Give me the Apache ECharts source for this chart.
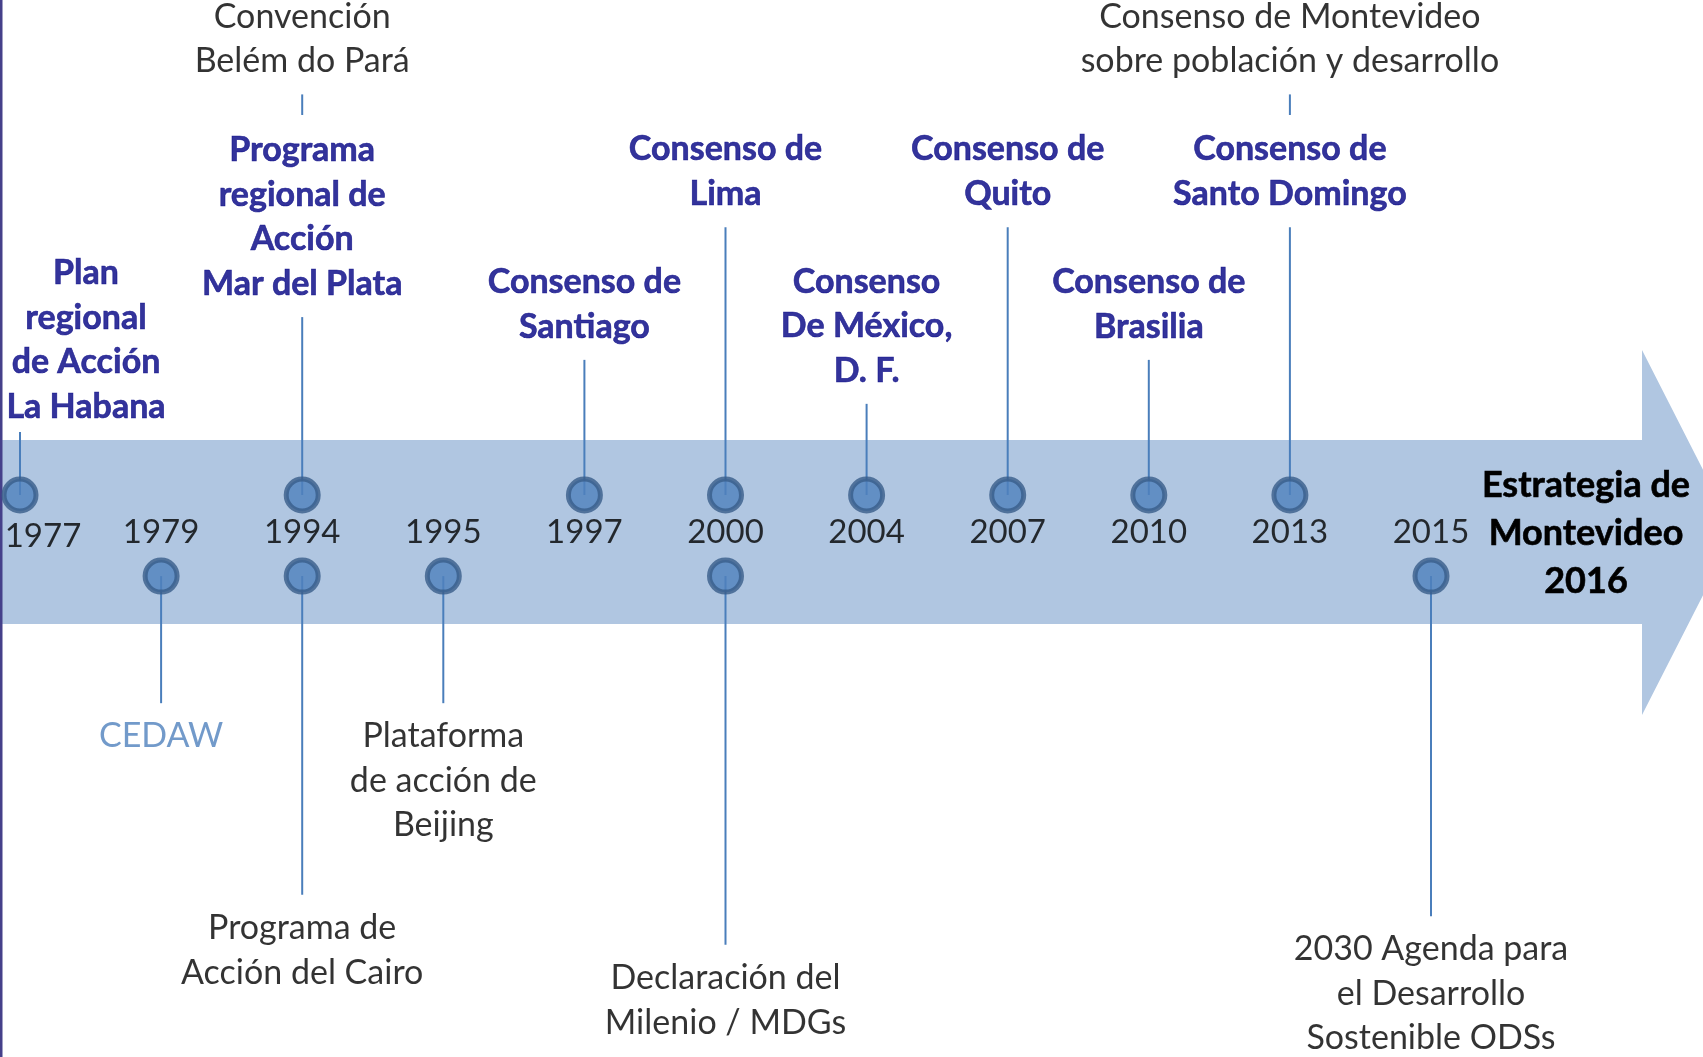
<!DOCTYPE html>
<html><head><meta charset="utf-8">
<script src="https://cdn.jsdelivr.net/npm/echarts@6/dist/echarts.min.js"></script>
<style>html,body{margin:0;padding:0;background:#fff}#c{width:1703px;height:1057px}</style>
</head><body><div id="c"></div>
<script>
// ---- data ----
const years = ['1977','1979','1994','1995','1997','2000','2004','2007','2010','2013','2015'];

const topYears  = ['1977','1994','1997','2000','2004','2007','2010','2013'];
const topLabels = ['Plan\nregional\nde Acción\nLa Habana',
                   'Programa\nregional de\nAcción\nMar del Plata',
                   'Consenso de\nSantiago',
                   'Consenso de\nLima',
                   'Consenso\nDe México,\nD. F.',
                   'Consenso de\nQuito',
                   'Consenso de\nBrasilia',
                   'Consenso de\nSanto Domingo'];
const topReach  = [2.49, 5.34, 4.28, 7.57, 3.19, 7.57, 4.28, 7.57];

const outerYears  = ['1994','2013'];
const outerLabels = ['Convención\nBelém do Pará',
                     'Consenso de Montevideo\nsobre población y desarrollo'];
const outerFrom   = [10.35, 10.35];
const outerTo     = [10.86, 10.86];

const bottomYears  = ['1979','1994','1995','2000','2015'];
const bottomLabels = ['CEDAW',
                      'Programa de\nAcción del Cairo',
                      'Plataforma\nde acción de\nBeijing',
                      'Declaración del\nMilenio / MDGs',
                      '2030 Agenda para\nel Desarrollo\nSostenible ODSs'];
const bottomReach  = [-4.23, -8.98, -4.23, -10.22, -9.51];

const finalLabel = 'Estrategia de\nMontevideo\n2016';

// ---- layout / style ----
const TOP_ROW = 0.93, BOTTOM_ROW = -1.08;
const FONT = 'Lato';
const NAVY = '#000082';
const LINE = '#4a7ebb';

const stemData = [];
topYears.forEach((y,i)=>stemData.push([y, TOP_ROW, topReach[i]]));
outerYears.forEach((y,i)=>stemData.push([y, outerFrom[i], outerTo[i]]));
bottomYears.forEach((y,i)=>stemData.push([y, BOTTOM_ROW, bottomReach[i]]));

const dotStyle = {color:'#4f81bd', borderColor:'#385d8a', borderWidth:5};
const baseText = {fontFamily: FONT, fontSize: 34, lineHeight: 44.5, align:'center'};

const topLabelData = topYears.map((y,i)=>{
  const d = {value:[y, topReach[i]], name: topLabels[i]};
  if (y === '1977') d.label = {offset:[66, 8]};
  return d;
});

const option = {
  animation: false,
  grid: {left: 20, right: 272, top: 0, bottom: 0},
  xAxis: {type:'category', data: years, boundaryGap:false, show:false},
  yAxis: {type:'value', min:-13, max:13.2, show:false},
  graphic: [
    {type:'polygon', z:-1, shape:{points:[[2,440],[1642,440],[1642,350],[1735,532.5],[1642,715],[1642,624],[2,624]]},
     style:{fill:'#b0c6e1'}},
    {type:'rect', shape:{x:0,y:0,width:2.5,height:1057}, style:{fill:'#45408a'}},
    {type:'text', x:1586, y:533, z:10,
     style:{text: finalLabel, fill:'#000', fontFamily: FONT, fontWeight:'bold', fontSize:36, lineHeight:48,
            align:'center', verticalAlign:'middle', stroke:'#000', lineWidth:0.6}}
  ],
  series: [
    {type:'custom', z:2, data: stemData,
     encode:{x:0, y:[1,2]},
     renderItem:(params, api)=>{
       const p0 = api.coord([api.value(0), api.value(1)]);
       const p1 = api.coord([api.value(0), api.value(2)]);
       return {type:'line', shape:{x1:p0[0], y1:p0[1], x2:p1[0], y2:p1[1]},
               style:{stroke: LINE, lineWidth: 2}};
     }},
    {type:'scatter', z:4, symbol:'circle', symbolSize:32, itemStyle: dotStyle,
     data: topYears.map(y=>[y, TOP_ROW])},
    {type:'scatter', z:4, symbol:'circle', symbolSize:32, itemStyle: dotStyle,
     data: bottomYears.map(y=>[y, BOTTOM_ROW])},
    {type:'scatter', z:5, symbolSize:0, silent:true,
     label:{show:true, position:'inside', formatter:'{b}', color:'#000', ...baseText, fontSize:33, verticalAlign:'middle'},
     data: years.map(y=>({value:[y, 0], name:y, label: y==='1977' ? {offset:[23, 4]} : undefined}))},
    {type:'scatter', z:5, symbolSize:0, silent:true,
     label:{show:true, position:'top', distance:11, formatter:'{b}', color: NAVY, fontWeight:'bold', ...baseText,
            textBorderColor: NAVY, textBorderWidth: 0.6},
     data: topLabelData},
    {type:'scatter', z:5, symbolSize:0, silent:true,
     label:{show:true, position:'top', distance:11, formatter:'{b}', color:'#000', ...baseText},
     data: outerYears.map((y,i)=>({value:[y, outerTo[i]], name: outerLabels[i]}))},
    {type:'scatter', z:5, symbolSize:0, silent:true,
     label:{show:true, position:'bottom', distance:11, formatter:'{b}', color:'#000', ...baseText},
     data: bottomYears.map((y,i)=>({value:[y, bottomReach[i]], name: bottomLabels[i],
        label: y==='1979' ? {color:'#4f81bd'} : undefined}))}
  ]
};
const chart = echarts.init(document.getElementById('c'), null, {renderer:'canvas'});
chart.setOption(option);
</script>
</body></html>
